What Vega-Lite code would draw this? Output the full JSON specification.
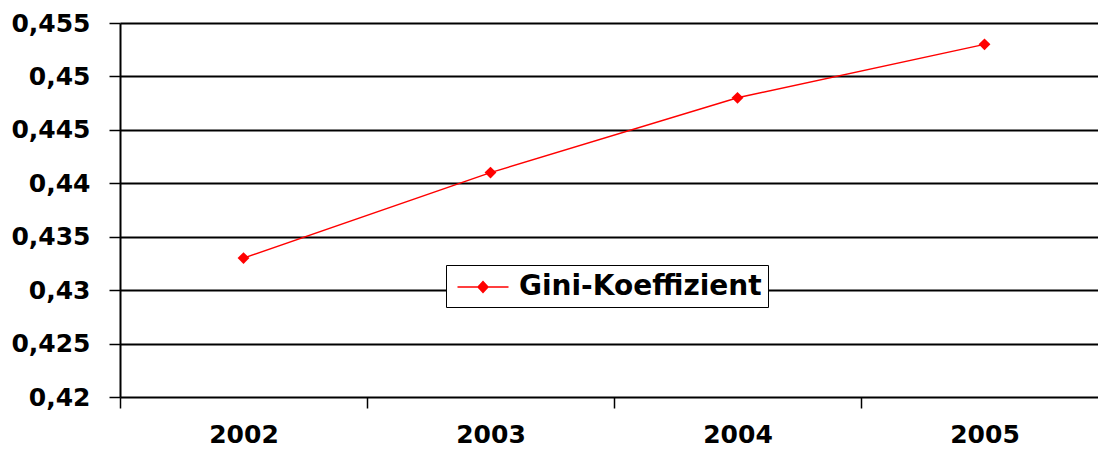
{
  "$schema": "https://vega.github.io/schema/vega-lite/v6.json",
  "width": 978,
  "height": 374,
  "autosize": {"type": "none"},
  "padding": {"left": 120, "top": 23, "right": 0, "bottom": 53},
  "background": "white",
  "config": {
    "view": {"stroke": null},
    "font": "DejaVu Sans"
  },
  "data": {
    "values": [
      {"Jahr": "2002", "Wert": 0.433, "Serie": "Gini-Koeffizient"},
      {"Jahr": "2003", "Wert": 0.441, "Serie": "Gini-Koeffizient"},
      {"Jahr": "2004", "Wert": 0.448, "Serie": "Gini-Koeffizient"},
      {"Jahr": "2005", "Wert": 0.453, "Serie": "Gini-Koeffizient"}
    ]
  },
  "encoding": {
    "x": {
      "field": "Jahr",
      "type": "nominal",
      "scale": {"range": [0, 988], "paddingInner": 0, "paddingOuter": 0},
      "axis": {
        "title": null,
        "labelAngle": 0,
        "labelFont": "DejaVu Sans",
        "labelFontWeight": "bold",
        "labelFontSize": 25,
        "labelColor": "black",
        "labelPadding": 14,
        "tickBand": "extent",
        "tickSize": 11,
        "tickColor": "black",
        "tickWidth": 1.5,
        "domain": false,
        "grid": false
      }
    },
    "y": {
      "field": "Wert",
      "type": "quantitative",
      "scale": {"domain": [0.42, 0.455], "zero": false, "nice": false},
      "axis": {
        "title": null,
        "values": [0.42, 0.425, 0.43, 0.435, 0.44, 0.445, 0.45, 0.455],
        "labelExpr": "replace(format(datum.value, '.3~f'), '.', ',')",
        "labelFont": "DejaVu Sans",
        "labelFontWeight": "bold",
        "labelFontSize": 25,
        "labelColor": "black",
        "labelPadding": 19,
        "tickSize": 11,
        "tickColor": "black",
        "tickWidth": 1.5,
        "domainColor": "black",
        "domainWidth": 2,
        "grid": true,
        "gridColor": "black",
        "gridWidth": 1.8,
        "gridOpacity": 1
      }
    },
    "color": {
      "field": "Serie",
      "type": "nominal",
      "scale": {"range": ["#ff0000"]},
      "legend": {
        "title": null,
        "orient": "none",
        "legendX": 326,
        "legendY": 242,
        "symbolType": "M-1.7,0H1.7M-0.33,0L0,-0.36L0.33,0L0,0.36Z",
        "symbolSize": 900,
        "symbolOffset": 15,
        "symbolStrokeWidth": 1.5,
        "symbolFillColor": "#ff0000",
        "symbolStrokeColor": "#ff0000",
        "labelFont": "DejaVu Sans",
        "labelFontWeight": "bold",
        "labelFontSize": 28,
        "labelColor": "black",
        "labelOffset": 20,
        "labelLimit": 400,
        "padding": 6,
        "fillColor": "white",
        "strokeColor": "black",
        "cornerRadius": 0
      }
    }
  },
  "layer": [
    {"mark": {"type": "line", "strokeWidth": 1.5}},
    {"mark": {"type": "point", "shape": "diamond", "size": 140, "filled": true, "opacity": 1}}
  ]
}
